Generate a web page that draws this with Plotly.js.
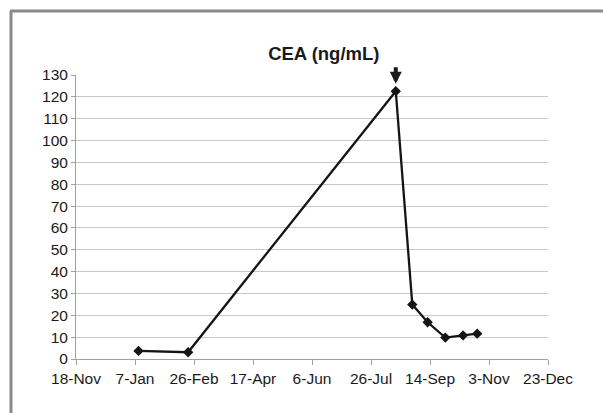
<!DOCTYPE html>
<html>
<head>
<meta charset="utf-8">
<script src="https://cdn.plot.ly/plotly-3.0.1.min.js"></script>
<style>
  html, body { margin: 0; padding: 0; background: #fff; }
  #chart { width: 603px; height: 413px; }
</style>
</head>
<body>
<div id="chart"></div>
<script>
// Data
var dates = ['2011-01-10', '2011-02-21', '2011-08-16', '2011-08-30', '2011-09-12', '2011-09-27', '2011-10-12', '2011-10-24'];
var ceaValues = [3.7, 3.1, 122.6, 24.9, 16.8, 9.8, 10.8, 11.6];
var xRange = ['2010-11-18', '2011-12-23'];
var xTick0 = '2010-11-18';
var tickStepDays = 50;
var chartTitle = 'CEA (ng/mL)';
var arrowDate = '2011-08-16';

var trace = {
  x: dates,
  y: ceaValues,
  type: 'scatter',
  mode: 'lines+markers',
  line: { color: '#151515', width: 2.3 },
  marker: { symbol: 'diamond', size: 8, color: '#151515' },
  hoverinfo: 'none',
  cliponaxis: false
};

var fontFam = '"Liberation Sans", Arial, Helvetica, sans-serif';

var layout = {
  width: 603,
  height: 413,
  margin: { l: 76, r: 55, t: 75, b: 54 },
  paper_bgcolor: '#ffffff',
  plot_bgcolor: '#ffffff',
  showlegend: false,
  title: {
    text: '<b>' + chartTitle + '</b>',
    font: { family: fontFam, size: 18.5, color: '#1a1a1a' },
    x: 0.537, xanchor: 'center', xref: 'container',
    y: 1 - 54 / 413, yanchor: 'middle', yref: 'container'
  },
  xaxis: {
    type: 'date',
    range: xRange,
    tick0: xTick0,
    dtick: tickStepDays * 86400000,
    tickformat: '%-d-%b',
    showgrid: false,
    zeroline: false,
    showline: true,
    linecolor: '#a0a0a0',
    linewidth: 1,
    ticks: 'outside',
    ticklen: 5,
    tickcolor: '#a0a0a0',
    tickfont: { family: fontFam, size: 15.5, color: '#1a1a1a' },
    fixedrange: true
  },
  yaxis: {
    range: [0, 130],
    dtick: 10,
    tick0: 0,
    showgrid: true,
    gridcolor: '#c8c8c8',
    gridwidth: 1,
    zeroline: false,
    showline: true,
    linecolor: '#a0a0a0',
    linewidth: 1,
    ticks: 'outside',
    ticklen: 4,
    tickcolor: '#a0a0a0',
    tickfont: { family: fontFam, size: 15.5, color: '#1a1a1a' },
    fixedrange: true
  },
  annotations: [{
    x: arrowDate,
    y: 126,
    xref: 'x',
    yref: 'y',
    text: '',
    showarrow: true,
    arrowhead: 2,
    arrowsize: 0.6,
    arrowwidth: 4,
    arrowcolor: '#1a1a1a',
    ax: 0,
    ay: -18
  }],
  shapes: [
    { type: 'line', xref: 'paper', yref: 'paper',
      x0: (11 - 76) / 472, x1: (11 - 76) / 472,
      y0: (359 - 11) / 284, y1: (359 - 420) / 284,
      line: { color: '#8a8a8a', width: 3 } },
    { type: 'line', xref: 'paper', yref: 'paper',
      x0: (10 - 76) / 472, x1: (610 - 76) / 472,
      y0: (359 - 11) / 284, y1: (359 - 11) / 284,
      line: { color: '#8a8a8a', width: 3 } }
  ]
};

Plotly.newPlot('chart', [trace], layout, { staticPlot: true, displayModeBar: false });
</script>
</body>
</html>
